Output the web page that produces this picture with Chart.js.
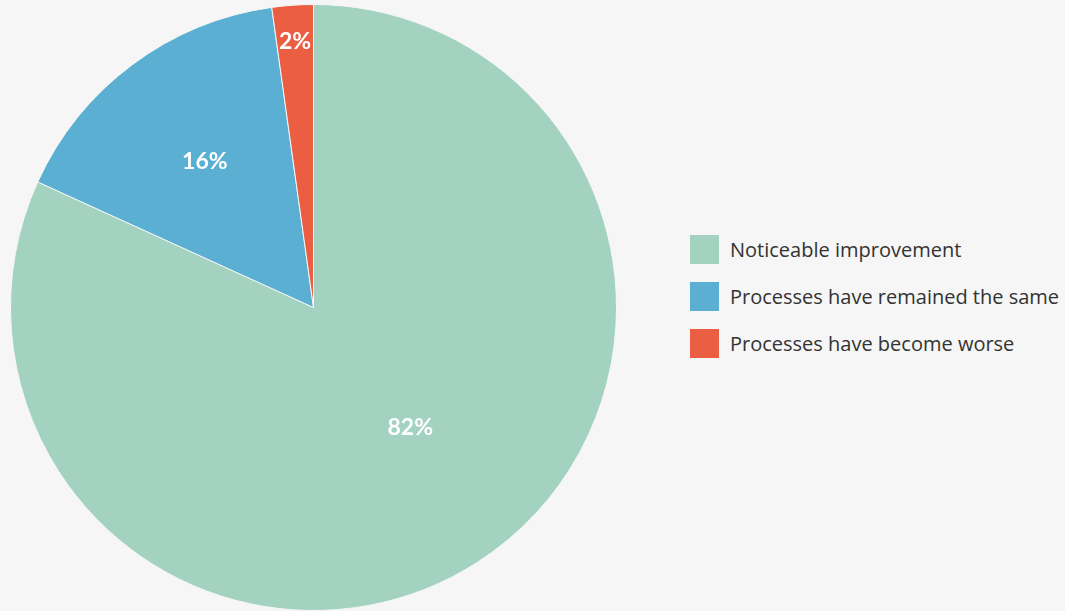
<!DOCTYPE html>
<html>
<head>
<meta charset="utf-8">
<script src="https://cdn.jsdelivr.net/npm/chart.js@4"></script>
<style>
  html, body { margin: 0; padding: 0; background: #f5f6f5; }
  #wrap { position: relative; width: 1065px; height: 611px; }
  #pieBox { position: absolute; left: 0; top: 0; width: 627px; height: 611px; }
  #legend { position: absolute; left: 690px; top: 235px; margin: 0; padding: 0; list-style: none;
            font-family: "Open Sans", Lato, sans-serif; font-size: 20px; color: #333; }
  #legend li { display: flex; align-items: center; height: 29px; margin-bottom: 18px; white-space: nowrap; }
  #legend .box { width: 29px; height: 29px; margin-right: 11px; flex: none; }
</style>
</head>
<body>
<div id="wrap">
  <div id="pieBox"><canvas id="pie"></canvas></div>
  <ul id="legend"></ul>
</div>
<script>
// data
const categories = ["Noticeable improvement", "Processes have remained the same", "Processes have become worse"];
const shares = [81.8, 16, 2.2]; // slice sizes
const colors = ["#a3d2c1", "#5aafd3", "#eb5e41"];

// where each percent label sits: fraction of radius, small angle tweak (deg)
const labelSpots = [[0.51, -6], [0.6, 0], [0.88, 0]];

const sliceLabels = {
  id: "sliceLabels",
  afterDatasetsDraw(chart) {
    const { ctx } = chart;
    const arcs = chart.getDatasetMeta(0).data;
    ctx.save();
    ctx.font = "bold 23px Lato, 'Open Sans', sans-serif";
    ctx.fillStyle = "#ffffff";
    ctx.textAlign = "center";
    ctx.textBaseline = "middle";
    arcs.forEach((arc, i) => {
      const mid = (arc.startAngle + arc.endAngle) / 2 + labelSpots[i][1] * Math.PI / 180;
      const r = arc.outerRadius * labelSpots[i][0];
      ctx.fillText(Math.round(shares[i]) + "%", arc.x + Math.cos(mid) * r, arc.y + Math.sin(mid) * r);
    });
    ctx.restore();
  },
};

// html legend built from the chart's own items
const htmlLegend = {
  id: "htmlLegend",
  afterUpdate(chart) {
    const ul = document.getElementById("legend");
    ul.innerHTML = "";
    const items = chart.options.plugins.legend.labels.generateLabels(chart);
    items.forEach((item) => {
      const li = document.createElement("li");
      const box = document.createElement("span");
      box.className = "box";
      box.style.background = item.fillStyle;
      const txt = document.createElement("span");
      txt.textContent = item.text;
      li.appendChild(box);
      li.appendChild(txt);
      ul.appendChild(li);
    });
  },
};

const myChart = new Chart(document.getElementById("pie"), {
  type: "pie",
  data: {
    labels: categories,
    datasets: [
      {
        data: shares,
        backgroundColor: colors,
        borderColor: "#f5f6f5",
        borderWidth: 1,
      },
    ],
  },
  options: {
    responsive: true,
    maintainAspectRatio: false,
    animation: false,
    layout: { padding: { top: 4, bottom: 0 } },
    plugins: {
      legend: { display: false },
      tooltip: { enabled: false },
    },
  },
  plugins: [sliceLabels, htmlLegend],
});
</script>
</body>
</html>
